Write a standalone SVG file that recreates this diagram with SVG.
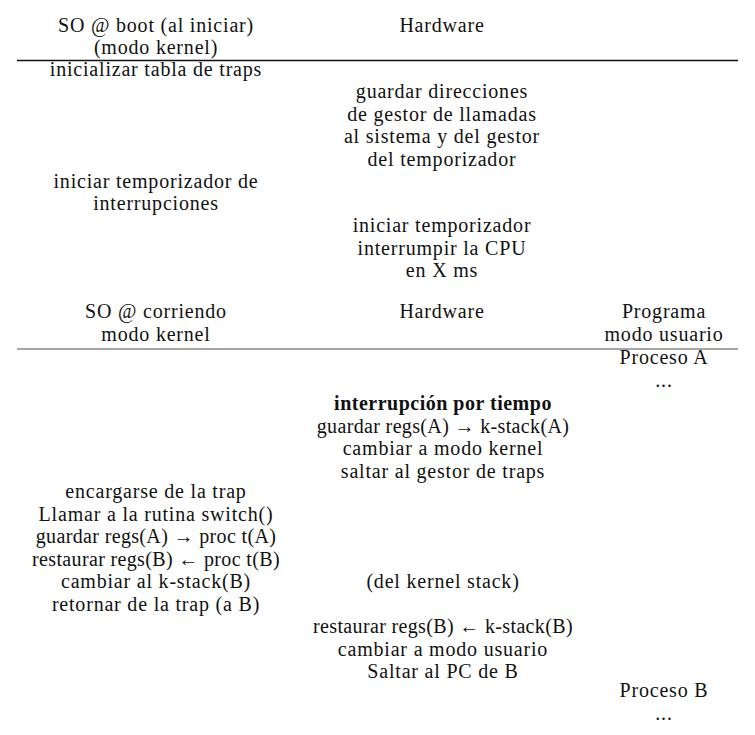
<svg xmlns="http://www.w3.org/2000/svg" width="755" height="735" viewBox="0 0 755 735">
<style>
text{font-family:"Liberation Serif","Times New Roman",serif;font-size:20px;letter-spacing:0.8px;fill:#111;text-anchor:middle}
.b{font-weight:bold;letter-spacing:0.5px}
.a{letter-spacing:0.35px}
.rule1{stroke:#111;stroke-width:1.4}
.rule2{stroke:#888;stroke-width:1.6}
</style>
<rect width="755" height="735" fill="#fff"/>
<g id="rules">
<line class="rule1" x1="17" y1="60.5" x2="738" y2="60.5"/>
<line class="rule2" x1="17" y1="349" x2="738" y2="349"/>
</g>
<g id="header1">
<text x="156" y="31.5">SO @ boot (al iniciar)</text>
<text x="156" y="54">(modo kernel)</text>
<text x="442" y="31.5">Hardware</text>
</g>
<g id="boot-os">
<text x="156" y="76">inicializar tabla de traps</text>
<text x="156" y="187.5">iniciar temporizador de</text>
<text x="156" y="210">interrupciones</text>
</g>
<g id="boot-hw">
<text x="442" y="98">guardar direcciones</text>
<text x="442" y="120.5">de gestor de llamadas</text>
<text x="442" y="143">al sistema y del gestor</text>
<text x="442" y="165.5">del temporizador</text>
<text x="442" y="232">iniciar temporizador</text>
<text x="442" y="254.5">interrumpir la CPU</text>
<text x="442" y="277">en X ms</text>
</g>
<g id="header2">
<text x="156" y="318">SO @ corriendo</text>
<text x="156" y="340.5">modo kernel</text>
<text x="442" y="318">Hardware</text>
<text x="664" y="318">Programa</text>
<text x="664" y="340.5">modo usuario</text>
</g>
<g id="procA">
<text x="664" y="364">Proceso A</text>
<text x="664" y="386.5">...</text>
</g>
<g id="hw-interrupt">
<text class="b" x="443" y="410">interrupción por tiempo</text>
<text class="a" x="443" y="432.5">guardar regs(A) → k-stack(A)</text>
<text x="443" y="455">cambiar a modo kernel</text>
<text x="443" y="477.5">saltar al gestor de traps</text>
</g>
<g id="os-switch">
<text x="156" y="498">encargarse de la trap</text>
<text x="156" y="520.5">Llamar a la rutina switch()</text>
<text class="a" x="156" y="543">guardar regs(A) → proc t(A)</text>
<text class="a" x="156" y="565.5">restaurar regs(B) ← proc t(B)</text>
<text x="156" y="588">cambiar al k-stack(B)</text>
<text x="156" y="610.5">retornar de la trap (a B)</text>
</g>
<g id="hw-return">
<text x="443" y="588">(del kernel stack)</text>
<text class="a" x="443" y="633">restaurar regs(B) ← k-stack(B)</text>
<text x="443" y="655.5">cambiar a modo usuario</text>
<text x="443" y="678">Saltar al PC de B</text>
</g>
<g id="procB">
<text x="664" y="697">Proceso B</text>
<text x="664" y="719.5">...</text>
</g>
</svg>
